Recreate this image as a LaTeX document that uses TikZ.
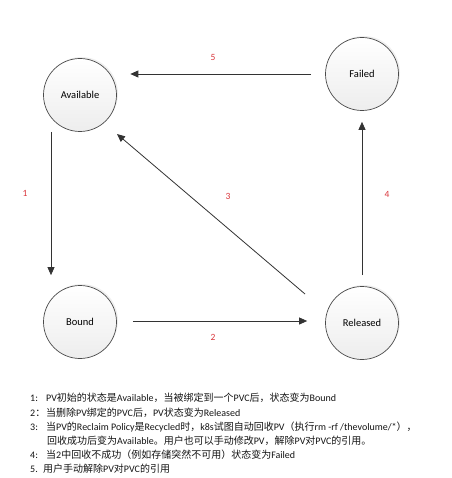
\documentclass[tikz,border=0pt]{standalone}
\usepackage{fontspec}
\setmainfont{Carlito}
\newfontfamily\zhfont{Noto Sans CJK SC}
\newcommand{\zh}[1]{{\zhfont #1}}
\usetikzlibrary{arrows.meta,shadows}
\definecolor{ringgray}{HTML}{4A4A4A}
\definecolor{arrowgray}{HTML}{333333}
\definecolor{numred}{HTML}{D9343A}
\definecolor{fillbottom}{HTML}{EDEDED}
\tikzset{
  state/.style={circle, minimum size=73pt, inner sep=0pt, draw=ringgray, line width=0.7pt,
    top color=white, bottom color=fillbottom,
    drop shadow={shadow xshift=1.5pt, shadow yshift=1.5pt, fill=black!12},
    font=\fontsize{10.5}{12}\selectfont},
  arr/.style={draw=arrowgray, line width=0.8pt, -{Triangle[length=8pt,width=7pt]}},
  num/.style={text=numred, font=\fontsize{9.5}{10}\selectfont, inner sep=0pt},
  note/.style={anchor=west, inner sep=0pt, font=\fontsize{10}{12}\selectfont, text=black!92}
}
\begin{document}
\begin{tikzpicture}[x=1pt, y=-1pt]
\useasboundingbox (0,0) rectangle (451,478);

% lifecycle states
\node[state] (Av) at (80,95)  {Available};
\node[state] (Fl) at (362,74) {Failed};
\node[state] (Bd) at (80,322) {Bound};
\node[state] (Rl) at (362,323) {Released};

% transitions
\draw[arr] ([xshift=-29pt]Av.south) -- ([xshift=-29pt,yshift=10pt]Bd.north);
\draw[arr] ([xshift=16pt,yshift=1pt]Bd.east) -- ([xshift=-18pt,yshift=1pt]Rl.west |- Bd.east);
\draw[arr] ([shift={(-57,-29)}]Rl.center) -- ([shift={(37,39)}]Av.center);
\draw[arr] ([yshift=11pt]Rl.north) -- ([yshift=-11pt]Fl.south);
\draw[arr] ([xshift=-14pt]Fl.west) -- ([xshift=13.5pt]Fl.west -| Av.east);

% transition numbers
\node[num] (n1) at (25,193) {1};
\node[num] (n2) at (213,337) {2};
\node[num] (n3) at (228,196) {3};
\node[num] (n4) at (387,194) {4};
\node[num] (n5) at (213,57) {5};

% legend
\node[note] (l1) at (30,398) {1:};
\node[note] (t1) at (46,398) {PV\zh{初始的状态是}Available\zh{，当被绑定到一个}PVC\zh{后，状态变为}Bound};
\node[note] (l2) at (30,413) {2\zh{：}};
\node[note] (t2) at (46,413) {\zh{当删除}PV\zh{绑定的}PVC\zh{后，}PV\zh{状态变为}Released};
\node[note] (l3) at (30,427) {3:};
\node[note] (t3) at (46,427) {\zh{当}PV\zh{的}Reclaim Policy\zh{是}Recycled\zh{时，}k8s\zh{试图自动回收}PV\zh{（执行}rm -rf /thevolume/*\zh{），}};
\node[note] (t3b) at (47,441) {\zh{回收成功后变为}Available\zh{。用户也可以手动修改}PV\zh{，解除}PV\zh{对}PVC\zh{的引用。}};
\node[note] (l4) at (30,455) {4:};
\node[note] (t4) at (46,455) {\zh{当}2\zh{中回收不成功（例如存储突然不可用）状态变为}Failed};
\node[note] (l5) at (30,469) {5.};
\node[note] (t5) at (43,469) {\zh{用户手动解除}PV\zh{对}PVC\zh{的引用}};
\end{tikzpicture}
\end{document}
